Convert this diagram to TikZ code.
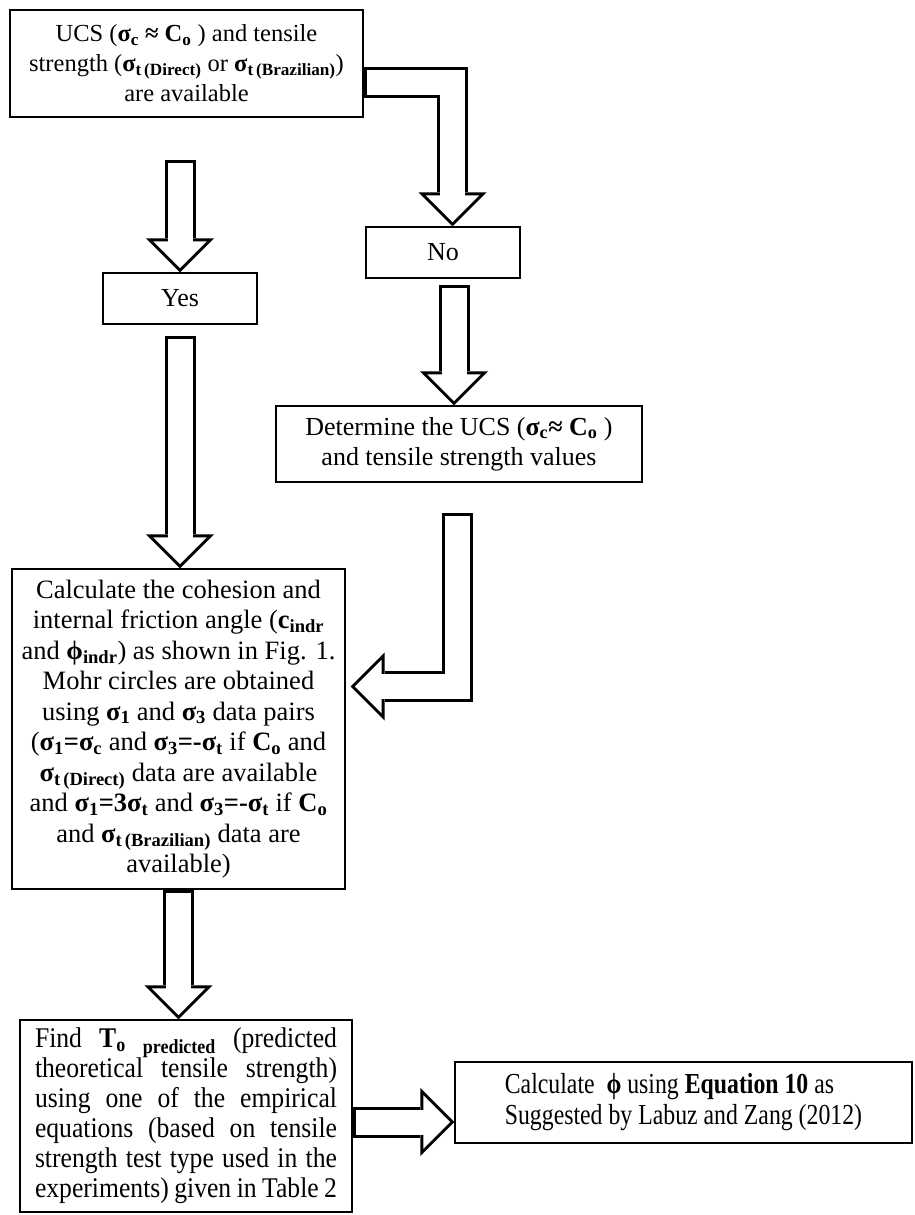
\documentclass[tikz,border=0pt]{standalone}
\usepackage{fontspec}
\setmainfont{Liberation Serif}
\newfontfamily\narrowfont{Liberation Serif}[FakeStretch=0.82]
\newfontfamily\findfont{Liberation Serif}[FakeStretch=0.9]
\usetikzlibrary{arrows.meta}

\newcommand{\sg}[1]{\textbf{σ\textsubscript{#1}}}
\newcommand{\blkarrow}[1]{\draw[blkout] #1; \draw[blkin] #1; \draw[blkfill] #1;}

\tikzset{
  box/.style={draw, line width=1.2pt, inner sep=0pt, align=center, font=\fontsize{24.5}{30}\selectfont},
  blkout/.style={line width=31pt, line join=miter, -{Triangle[length=34pt,width=68pt,line width=0pt]}},
  blkin/.style={white, line width=25pt, line join=miter, shorten <=3pt, shorten >=4.24pt,
    -{Triangle[length=26.8pt,width=53.5pt,line width=0pt]}},
  blkfill/.style={white, line width=25pt, line join=miter, shorten <=3pt, shorten >=20pt},
}

\begin{document}
\begin{tikzpicture}[x=1pt,y=-1pt]
\useasboundingbox (0,0) rectangle (914,1215);

\node[box, minimum width=353pt, minimum height=107pt] (avail) at (186.5,63.5)
  {UCS (\textbf{σ\textsubscript{c} ≈ C\textsubscript{o}} ) and tensile\\
   strength (\sg{t\,(Direct)} or \sg{t\,(Brazilian)})\\
   are available};
\node[box, font=\fontsize{26}{30}\selectfont, minimum width=154pt, minimum height=51pt] (no) at (443,252.5) {No};
\node[box, font=\fontsize{26}{30}\selectfont, minimum width=154pt, minimum height=51pt] (yes) at (180,298.5) {Yes};
\node[box, font=\fontsize{26}{30}\selectfont, minimum width=366pt, minimum height=76pt] (det) at (459,444)
  {Determine the UCS (\textbf{σ\textsubscript{c}≈ C\textsubscript{o}} )\\
   and tensile strength values};
\node[box, font=\fontsize{26.5}{30.5}\selectfont, minimum width=333pt, minimum height=320pt] (calc) at (178.5,729)
  {Calculate the cohesion and\\
   internal friction angle (\textbf{c\textsubscript{indr}}\\
   and \textbf{ϕ\textsubscript{indr}}) as shown in Fig. 1.\\
   Mohr circles are obtained\\
   using \sg{1} and \sg{3} data pairs\\
   (\sg{1}\textbf{=}\sg{c} and \sg{3}\textbf{=-}\sg{t} if \textbf{C\textsubscript{o}} and\\
   \sg{t\,(Direct)} data are available\\
   and \sg{1}\textbf{=3}\sg{t} and \sg{3}\textbf{=-}\sg{t} if \textbf{C\textsubscript{o}}\\
   and \sg{t\,(Brazilian)} data are\\
   available)};
\node[box, minimum width=332pt, minimum height=192pt, text width=302pt, align=justify,
  font=\findfont\fontsize{28.5}{30}\selectfont] (find) at (186,1116)
  {\parfillskip=0pt \hbadness=10000
   Find \textbf{T\textsubscript{o}} \textbf{\textsubscript{predicted}} (predicted\linebreak
   theoretical tensile strength)\linebreak
   using one of the empirical\linebreak
   equations (based on tensile\linebreak
   strength test type used in the\linebreak
   experiments) given in Table 2\par};
\node[box, minimum width=457pt, minimum height=81pt, align=left,
  font=\narrowfont\fontsize{29}{31}\selectfont] (phi) at (683.5,1102.5)
  {Calculate \ \textbf{ϕ} using \textbf{Equation 10} as\\
   Suggested by Labuz and Zang (2012)};

% free start points of the arrows
\coordinate (yesin) at (180,160);
\coordinate (nostart) at (454,285);
\coordinate (detout) at (457.5,513);

\blkarrow{([yshift=-19pt]avail.east) -| ([xshift=9.5pt]no.north)}
\blkarrow{(yesin) -- (yes.north)}
\blkarrow{([yshift=-11pt]yes.south) -- (yes.south |- calc.north)}
\blkarrow{(nostart) -- (nostart |- det.north)}
\blkarrow{(detout) |- ([xshift=5pt,yshift=42.5pt]calc.east)}
\blkarrow{(calc.south) -- (calc.south |- find.north)}
\blkarrow{([yshift=-6pt]find.east) -- ([yshift=-6pt]find.east -| phi.west)}
\end{tikzpicture}
\end{document}
